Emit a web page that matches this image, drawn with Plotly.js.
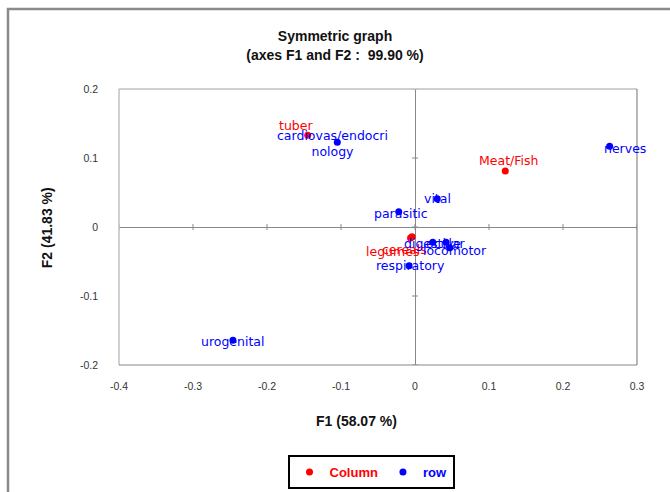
<!DOCTYPE html>
<html><head><meta charset="utf-8">
<script src="https://cdn.plot.ly/plotly-3.0.1.min.js"></script>
<style>body{margin:0;background:#fff}#c{width:670px;height:492px}</style>
</head><body><div id="c"></div>
<script>
// Column (red) points
const colNames = ["tuber", "Meat/Fish", "legumes", "cereals"];
const colF1 = [-0.145, 0.122, -0.006, -0.004];
const colF2 = [0.133, 0.081, -0.016, -0.014];
// Row (blue) points
const rowNames = ["cardiovas/endocri<br>nology", "nerves", "vital", "parasitic", "digestive", "ocular", "locomotor", "respiratory", "urogenital"];
const rowF1 = [-0.105, 0.263, 0.030, -0.022, 0.024, 0.042, 0.047, -0.008, -0.246];
const rowF2 = [0.123, 0.117, 0.041, 0.022, -0.022, -0.022, -0.030, -0.056, -0.164];
const xTicks = [-0.4, -0.3, -0.2, -0.1, 0, 0.1, 0.2, 0.3];
const yTicks = [-0.2, -0.1, 0, 0.1, 0.2];

// label offsets in pixels (style)
const shift = {
  "tuber": [-12, 10], "Meat/Fish": [3, 11], "legumes": [-18, -13], "cereals": [-8, -13],
  "cardiovas/endocri<br>nology": [-5, -1], "nerves": [15, -2], "vital": [0, 0], "parasitic": [2, -2],
  "digestive": [0, -1], "ocular": [0, -1], "locomotor": [5, -3], "respiratory": [1, 0], "urogenital": [0, -1]
};
const RED = "#ff0000", BLUE = "#0000ff";
const labelFont = {family: "DejaVu Sans", size: 12.5};

const traces = [
  {x: colF1, y: colF2, mode: "markers", type: "scatter", name: '<span style="color:#ff0000">Column</span>',
   marker: {color: RED, size: 7}, hoverinfo: "none"},
  {x: rowF1, y: rowF2, mode: "markers", type: "scatter", name: '<span style="color:#0000ff">row</span>',
   marker: {color: BLUE, size: 7}, hoverinfo: "none"}
];

const ann = [];
function addLabels(names, xs, ys, color) {
  names.forEach((n, i) => {
    const s = shift[n] || [0, 0];
    ann.push({x: xs[i], y: ys[i], xref: "x", yref: "y", text: n, showarrow: false,
      xshift: s[0], yshift: s[1], font: Object.assign({color: color}, labelFont), align: "center"});
  });
}
addLabels(colNames, colF1, colF2, RED);
addLabels(rowNames, rowF1, rowF2, BLUE);

ann.push({xref: "paper", yref: "paper", x: 0.459, y: -0.239, text: "F1 (58.07 %)", showarrow: false,
  font: {family: "Liberation Sans", size: 14, color: "#111", weight: "bold"}});
ann.push({xref: "paper", yref: "paper", x: -0.158, y: 0.496, text: "F2 (41.83 %)", showarrow: false, textangle: -90,
  font: {family: "Liberation Sans", size: 14, color: "#111", weight: "bold"}});

const shapes = [];
// tick marks crossing the zero axes
xTicks.forEach(v => shapes.push({type: "line", xref: "x", yref: "y", x0: v, x1: v, ysizemode: "pixel", yanchor: 0, y0: -3, y1: 3, line: {color: "#888", width: 1}}));
yTicks.forEach(v => shapes.push({type: "line", yref: "y", xref: "x", y0: v, y1: v, xsizemode: "pixel", xanchor: 0, x0: -3, x1: 3, line: {color: "#888", width: 1}}));
// plot frame
shapes.push({type: "line", xref: "paper", yref: "paper", x0: 0, x1: 1, y0: 1, y1: 1, line: {color: "#c0c0c0", width: 1.5}});
shapes.push({type: "line", xref: "paper", yref: "paper", x0: 0, x1: 0, y0: 0, y1: 1, line: {color: "#c0c0c0", width: 1.5}});
shapes.push({type: "line", xref: "paper", yref: "paper", x0: 1, x1: 1, y0: 0, y1: 1, line: {color: "#888", width: 1.2}});
shapes.push({type: "line", xref: "paper", yref: "paper", x0: 0, x1: 1, y0: 0, y1: 0, line: {color: "#888", width: 1.2}});
// outer chart border
shapes.push({type: "rect", xref: "paper", yref: "paper", x0: -0.2143, x1: 1.2, y0: -0.6, y1: 1.29, line: {color: "#8a8a8a", width: 2.5}});

const layout = {
  width: 670, height: 492,
  margin: {l: 119, r: 33, t: 89, b: 127, autoexpand: false},
  paper_bgcolor: "#fff", plot_bgcolor: "#fff",
  title: {text: "Symmetric graph<br>(axes F1 and F2 :  99.90 %)", x: 0.5, xref: "container", y: 0.916, yref: "container", yanchor: "middle",
    font: {family: "Liberation Sans", size: 14, color: "#111", weight: "bold"}},
  xaxis: {range: [-0.4, 0.3], tickvals: xTicks, ticktext: xTicks.map(String), showgrid: false,
    zeroline: true, zerolinecolor: "#888", zerolinewidth: 1, showline: false, ticks: "", ticklabelstandoff: 13,
    tickfont: {family: "Liberation Sans", size: 10.5, color: "#333"}, fixedrange: true},
  yaxis: {range: [-0.2, 0.2], tickvals: yTicks, ticktext: yTicks.map(String), showgrid: false,
    zeroline: true, zerolinecolor: "#888", zerolinewidth: 1, showline: false, ticks: "", ticklabelstandoff: 20,
    tickfont: {family: "Liberation Sans", size: 10.5, color: "#333"}, fixedrange: true},
  showlegend: true,
  legend: {orientation: "h", x: 0.4865, xanchor: "center", y: -0.326, yanchor: "top",
    bordercolor: "#000", borderwidth: 2, bgcolor: "#fff", itemwidth: 30, tracegroupgap: 0,
    font: {family: "Liberation Sans", size: 13, weight: "bold"}},
  annotations: ann,
  shapes: shapes
};
Plotly.newPlot("c", traces, layout, {displayModeBar: false, staticPlot: true});
</script></body></html>
